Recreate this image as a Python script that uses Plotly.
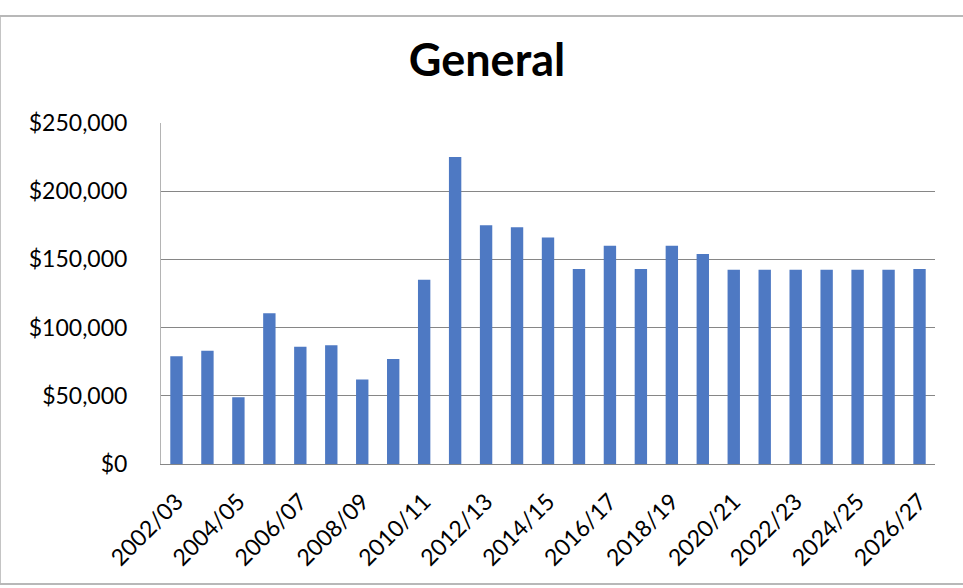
import plotly.graph_objects as go

# Financial years and annual totals
years = [
    "2002/03", "2003/04", "2004/05", "2005/06", "2006/07", "2007/08", "2008/09",
    "2009/10", "2010/11", "2011/12", "2012/13", "2013/14", "2014/15", "2015/16",
    "2016/17", "2017/18", "2018/19", "2019/20", "2020/21", "2021/22", "2022/23",
    "2023/24", "2024/25", "2025/26", "2026/27",
]
amounts = [
    79000, 83000, 49000, 110500, 86000, 87000, 62000,
    77000, 135000, 225000, 175000, 173500, 166000, 143000,
    160000, 143000, 160000, 154000, 142500, 142500, 142500,
    142500, 142500, 142500, 143000,
]
# Every other year is labelled on the category axis
year_ticks = years[::2]
value_ticks = [0, 50000, 100000, 150000, 200000, 250000]
value_labels = ["$0", "$50,000", "$100,000", "$150,000", "$200,000", "$250,000"]

BAR_BLUE = "#4E79C3"
GRID = "#868686"
FONT = "Lato"

fig = go.Figure(
    go.Bar(x=years, y=amounts, marker=dict(color=BAR_BLUE, line=dict(width=0)))
)

fig.update_layout(
    width=963,
    height=588,
    margin=dict(l=161, r=28, t=123, b=124),
    paper_bgcolor="white",
    plot_bgcolor="white",
    bargap=0.6,
    showlegend=False,
    font=dict(family=FONT, size=23, color="black"),
    title=dict(
        text="<b>General</b>",
        font=dict(family=FONT, size=45, color="black"),
        x=487 / 963,
        xref="container",
        xanchor="center",
        y=1 - 60 / 588,
        yref="container",
        yanchor="middle",
    ),
    shapes=[
        # chart area frame (left, top, bottom edges)
        dict(type="line", xref="paper", yref="paper", x0=-161 / 774, x1=-161 / 774,
             y0=-120 / 341, y1=1 + 107 / 341, line=dict(color="#c4c4c4", width=2)),
        dict(type="line", xref="paper", yref="paper", x0=-161 / 774, x1=1 + 28 / 774,
             y0=1 + 107 / 341, y1=1 + 107 / 341, line=dict(color="#b8b8b8", width=2)),
        dict(type="line", xref="paper", yref="paper", x0=-161 / 774, x1=1 + 28 / 774,
             y0=-120 / 341, y1=-120 / 341, line=dict(color="#b8b8b8", width=2)),
    ],
)

fig.update_xaxes(
    type="category",
    tickmode="array",
    tickvals=year_ticks,
    ticktext=year_ticks,
    tickangle=-45,
    ticks="",
    ticklabelstandoff=14,
    showgrid=False,
    showline=True,
    linecolor=GRID,
    linewidth=1,
    tickfont=dict(family=FONT, size=23, color="black"),
)

fig.update_yaxes(
    range=[0, 250000],
    tickmode="array",
    tickvals=value_ticks,
    ticktext=value_labels,
    ticks="",
    ticklabelstandoff=28,
    showgrid=True,
    gridcolor=GRID,
    gridwidth=1,
    showline=True,
    linecolor="#b4b4b4",
    linewidth=1,
    zeroline=False,
    tickfont=dict(family=FONT, size=23, color="black"),
)

fig.write_html("out.html")
